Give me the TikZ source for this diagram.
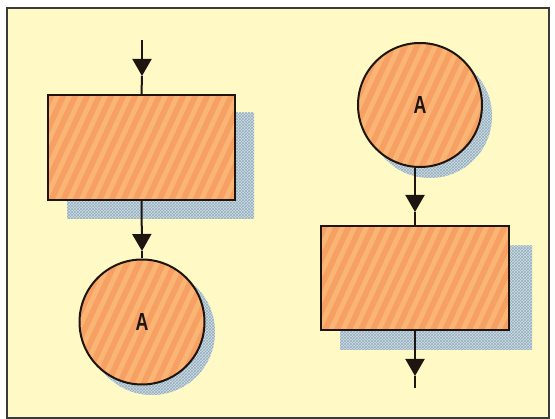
\documentclass[tikz,border=0pt]{standalone}
\usepackage{fontspec}
\setsansfont{Liberation Sans}
\usetikzlibrary{arrows.meta,patterns,calc}
\definecolor{bgcream}{HTML}{FFF9C6}
\definecolor{boxorange}{HTML}{F6A064}
\definecolor{stripeorange}{HTML}{FAB474}
\definecolor{shadowblue}{HTML}{D2DDDC}
\definecolor{shadowdark}{HTML}{92AEC6}
\definecolor{framegray}{HTML}{3A3A3A}
\definecolor{inkdark}{HTML}{1E1410}
\newcommand{\bigA}{\resizebox{!}{17pt}{\scalebox{0.72}[1]{\bfseries A}}}
\tikzset{
  frameline/.style={draw=framegray, line width=1.6pt, fill=bgcream},
  shadowfill/.style={fill=shadowblue, postaction={pattern=crosshatch, pattern color=shadowdark}},
  stripes/.style={path picture={
      \foreach \k in {-24,...,24}{
        \draw[stripeorange, line width=5pt]
          ($(path picture bounding box.center)+(\k*12pt+60pt,130pt)$) --
          ($(path picture bounding box.center)+(\k*12pt-60pt,-130pt)$);
      }}},
  procbox/.style={rectangle, draw=inkdark, line width=2pt, fill=boxorange, stripes, inner sep=0pt},
  connector/.style={circle, draw=inkdark, line width=2pt, fill=boxorange, stripes, inner sep=0pt,
      minimum size=125pt, font=\sffamily, text=inkdark},
  flow/.style={draw=inkdark, line width=2pt},
  flowarrow/.style={draw=inkdark, line width=2pt, -{Triangle[width=19pt,length=17pt]}}
}
\begin{document}
\begin{tikzpicture}[x=1pt,y=-1pt]
\useasboundingbox (0,0) rectangle (555,419);
\fill[white] (0,0) rectangle (555,419);
\draw[frameline] (7,8) rectangle (549,418);

% shadows
\path[shadowfill] (67,113) rectangle (254,219);
\path[shadowfill] (152,332) circle[radius=63];
\path[shadowfill] (430,116) circle[radius=62];
\path[shadowfill] (340,246) rectangle (532,350);

% left column
\node[procbox, minimum width=187pt, minimum height=105pt] (boxL) at (141.5,147.5) {};
\node[connector] (circL) at (142,322) {\bigA};
\coordinate (topL) at (142,40);
\coordinate (arrL1) at (142,76);
\coordinate (arrL2) at (142,251);
\draw[flowarrow] (topL) -- (arrL1);
\draw[flow] (arrL1) -- (boxL.north);
\draw[flowarrow] (boxL.south) -- (arrL2);
\draw[flow] (arrL2) -- (circL.north);

% right column
\node[connector, minimum size=124pt] (circR) at (420,105) {\bigA};
\node[procbox, minimum width=188pt, minimum height=104pt] (boxR) at (415,278) {};
\coordinate (arrR1) at (415,212);
\coordinate (arrR2) at (415,376);
\coordinate (endR) at (415,388);
\draw[flowarrow] (circR.south -| boxR.north) -- (arrR1);
\draw[flow] (arrR1) -- (boxR.north);
\draw[flowarrow] (boxR.south) -- (arrR2);
\draw[flow] (arrR2) -- (endR);
\end{tikzpicture}
\end{document}
